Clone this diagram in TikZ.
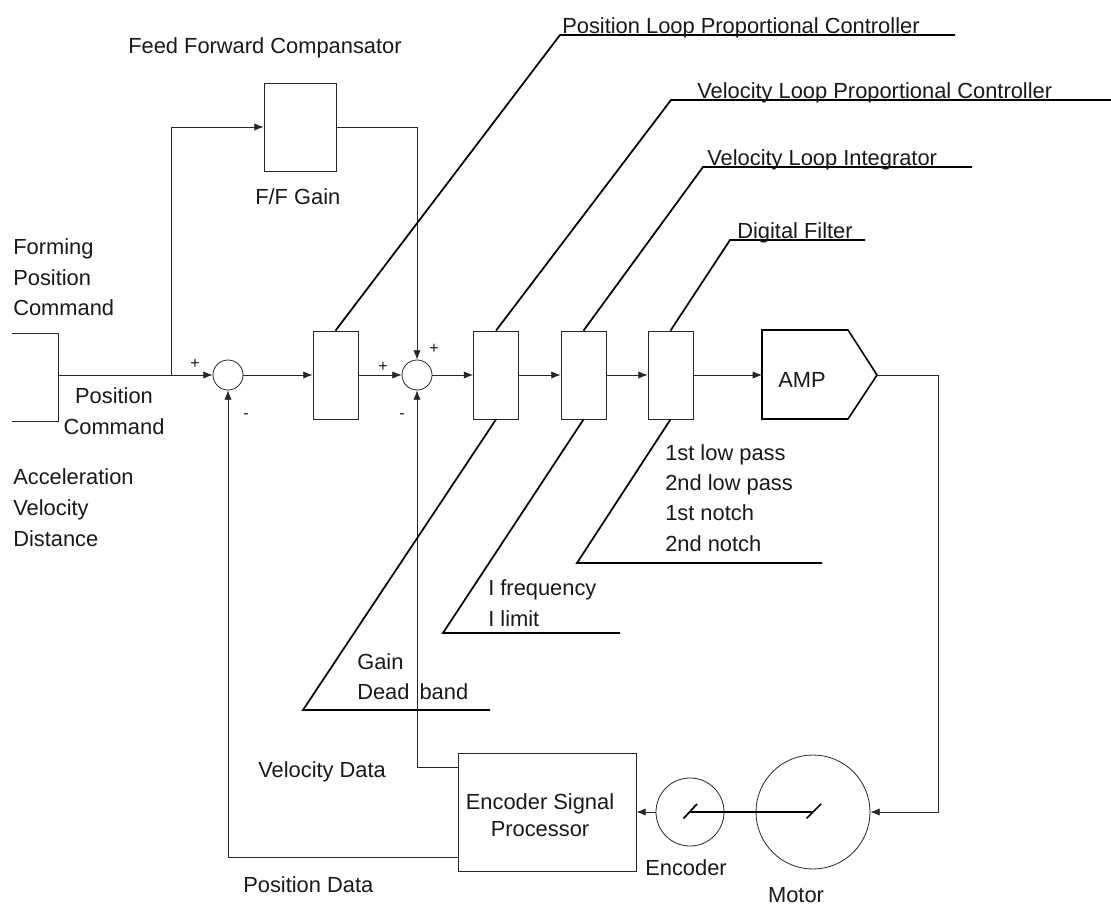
\documentclass[tikz,border=0pt]{standalone}
\usepackage{fontspec}
\setmainfont{Liberation Sans}
\usetikzlibrary{arrows.meta,calc}
\begin{document}
\begin{tikzpicture}[x=0.75pt,y=-0.75pt,
  every node/.style={font=\fontsize{16.4}{19}\selectfont, inner sep=0pt, text=black!90},
  lbl/.style={anchor=base west},
  lblc/.style={anchor=base},
  blk/.style={draw=black!85, line width=0.6pt, minimum width=33.75pt, minimum height=66pt},
  sumc/.style={draw=black!85, circle, line width=0.6pt, minimum size=22.5pt},
  ring/.style={draw=black!85, circle, line width=0.6pt},
  conn/.style={line width=0.6pt, draw=black!85},
  arr/.style={conn, -{Latex[length=7pt,width=5.5pt]}},
  leader/.style={line width=1.3pt, draw=black},
  ampline/.style={line width=1.2pt, draw=black},
  sgn/.style={font=\fontsize{12}{14}\selectfont}
]
\fill[white] (0,0) rectangle (1111,906);
\useasboundingbox (0,0) rectangle (1111,906);

% blocks
\node[blk, minimum width=54pt] (ff) at (300,127) {};
\node[sumc] (s1) at (228,375) {};
\node[sumc] (s2) at (417,375) {};
\node[blk] (b1) at (335.5,375) {};
\node[blk] (b2) at (496,375) {};
\node[blk] (b3) at (583.5,375) {};
\node[blk] (b4) at (670.5,375) {};
\node[draw=black!85, line width=0.6pt, minimum width=133.5pt, minimum height=88.5pt] (esp) at (547,812) {};
\node[ring, minimum size=51pt] (enc) at (690,812) {};
\node[ring, minimum size=85.5pt] (mot) at (813,812) {};

% input box (open on the left)
\draw[conn] (12,333) -- (58,333) -- (58,421) -- (12,421);
\coordinate (inp) at (58,375);
\coordinate (j) at (171,375);

% AMP
\draw[ampline] (762,330) -- (848,330) -- (877,375) -- (848,419) -- (762,419) -- cycle;
\coordinate (ampin) at (762,375);
\coordinate (ampout) at (877,375);
\coordinate (rc) at (938,375);

% forward path
\draw[arr] (inp) -- (s1.west);
\draw[arr] (j) |- (ff.west);
\draw[arr] (ff.east) -| (s2.north);
\draw[arr] (s1.east) -- (b1.west);
\draw[arr] (b1.east) -- (s2.west);
\draw[arr] (s2.east) -- (b2.west);
\draw[arr] (b2.east) -- (b3.west);
\draw[arr] (b3.east) -- (b4.west);
\draw[arr] (b4.east) -- (ampin);
\draw[arr] (ampout) -- (rc) |- (mot.east);

% motor / encoder
\draw[leader] (enc.center) -- (mot.center);
\draw[leader] ($(enc.center)+(-6.5,6.5)$) -- ($(enc.center)+(7,-8)$);
\draw[leader] ($(mot.center)+(-6.5,6.5)$) -- ($(mot.center)+(8,-8)$);
\draw[arr] (enc.west) -- (esp.east);

% feedback
\draw[arr] ($(esp.west)+(0,-45)$) -| (s2.south);
\draw[arr] ($(esp.west)+(0,45)$) -| (s1.south);

% leaders
\draw[leader] (b1.north) -- (560,35) -- (955,35);
\draw[leader] (b2.north) -- (671,100) -- (1111,100);
\draw[leader] (b3.north) -- (703,167) -- (972,167);
\draw[leader] (b4.north) -- (730,240) -- (865,240);
\draw[leader] (b2.south) -- (303,710) -- (490,710);
\draw[leader] (b3.south) -- (443,633) -- (620,633);
\draw[leader] (b4.south) -- (577,563) -- (822,563);

% signs
\node[sgn] (p1) at (195,364) {+};
\node[sgn] (m1) at (246,416) {-};
\node[sgn] (p2) at (383,367) {+};
\node[sgn] (p3) at (434,349) {+};
\node[sgn] (m2) at (402,416) {-};

% labels
\node[lbl] (t1) at (562,33.5) {Position Loop Proportional Controller};
\node[lbl] (t2) at (697,98.5) {Velocity Loop Proportional Controller};
\node[lbl] (t3) at (707,165.5) {Velocity Loop Integrator};
\node[lbl] (t4) at (737,238.5) {Digital Filter};
\node[lbl] (tff) at (128,54) {Feed Forward Compansator};
\node[lbl] (tffg) at (255,204) {F/F Gain};
\node[lbl] (fa) at (13,254) {Forming};
\node[lbl] (fb) at (13,285) {Position};
\node[lbl] (fc) at (13,315) {Command};
\node[lblc] (pca) at (114,403) {Position};
\node[lblc] (pcb) at (114,434) {Command};
\node[lbl] (ava) at (13,484) {Acceleration};
\node[lbl] (avb) at (13,515) {Velocity};
\node[lbl] (avc) at (13,546) {Distance};
\node[lbl] (tamp) at (778,387) {AMP};
\node[lbl] (dfa) at (665,460) {1st low pass};
\node[lbl] (dfb) at (665,490) {2nd low pass};
\node[lbl] (dfc) at (665,520) {1st notch};
\node[lbl] (dfd) at (665,551) {2nd notch};
\node[lbl] (ia) at (488,595) {I frequency};
\node[lbl] (ib) at (488,626) {I limit};
\node[lbl] (ga) at (357,669) {Gain};
\node[lbl] (gb) at (357,699) {Dead\hspace{3pt} band};
\node[lbl] (vd) at (258,777) {Velocity Data};
\node[lblc] (espa) at (540,809) {Encoder Signal};
\node[lblc] (espb) at (540,836) {Processor};
\node[lblc] (tenc) at (686,875) {Encoder};
\node[lblc] (tmot) at (796,902) {Motor};
\node[lbl] (pd) at (243,892) {Position Data};
\end{tikzpicture}
\end{document}
